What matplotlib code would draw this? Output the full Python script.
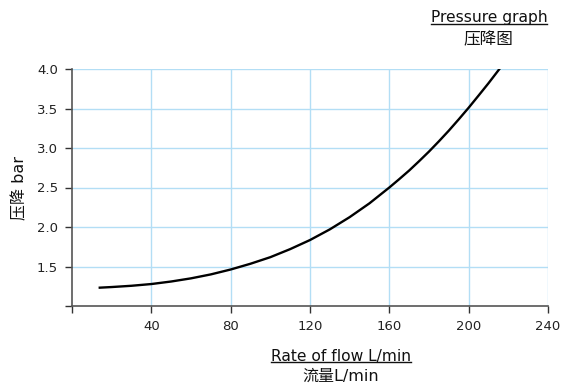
import matplotlib
matplotlib.use("Agg")
import matplotlib.pyplot as plt
from matplotlib.lines import Line2D

flow = [14, 20, 30, 40, 50, 60, 70, 80, 90, 100, 110, 120, 130, 140, 150, 160, 165, 170, 175, 180, 185, 190, 195, 200, 205, 210, 215.5]
pressure = [1.232, 1.24, 1.256, 1.278, 1.31, 1.35, 1.40, 1.462, 1.535, 1.618, 1.72, 1.835, 1.97, 2.125, 2.30, 2.50, 2.606, 2.715, 2.833, 2.955, 3.085, 3.22, 3.363, 3.51, 3.664, 3.82, 4.0]
xticks = [0, 40, 80, 120, 160, 200, 240]
xticklabels = ["", "40", "80", "120", "160", "200", "240"]
yticks = [1.0, 1.5, 2.0, 2.5, 3.0, 3.5, 4.0]
yticklabels = ["", "1.5", "2.0", "2.5", "3.0", "3.5", "4.0"]

plt.rcParams['font.family'] = ['DejaVu Sans', 'Noto Sans CJK SC']
plt.rcParams['font.size'] = 9.5

fig = plt.figure(figsize=(5.61, 3.87), dpi=100)
ax = fig.add_axes([72/561, 1-306/387, (548-72)/561, (306-69)/387])

ax.plot(flow, pressure, color='black', lw=1.7, solid_joinstyle='round')
ax.set_xlim(0, 240)
ax.set_ylim(1.0, 4.0)
ax.set_xticks(xticks)
ax.set_xticklabels(xticklabels)
ax.set_yticks(yticks)
ax.set_yticklabels(yticklabels)
grid_c = '#b3def5'
for x in xticks[1:]:
    ax.axvline(x, color=grid_c, lw=1.0, zorder=0)
for y in yticks[1:]:
    ax.axhline(y, color=grid_c, lw=1.0, zorder=0)
for s in ['top', 'right']:
    ax.spines[s].set_visible(False)
for s in ['left', 'bottom']:
    ax.spines[s].set_color('#555555')
    ax.spines[s].set_linewidth(1.2)
ax.tick_params(direction='out', length=5, width=1.0, color='#333333', labelcolor='#222222', pad=5)

ax.set_ylabel("压降 bar", fontsize=11.5, labelpad=7, color='#111111')

def underlined(x, y, s, fs):
    t = fig.text(x, y, s, ha='center', va='baseline', fontsize=fs, color='#111111')
    fig.canvas.draw()
    bb = t.get_window_extent().transformed(fig.transFigure.inverted())
    uy = y - 1.5/387
    fig.add_artist(Line2D([bb.x0, bb.x1], [uy, uy], color='#111111', lw=1.0,
                          transform=fig.transFigure))
    return t

underlined(489/561, 1-22/387, "Pressure graph", 11.2)
fig.text(488/561, 1-39/387, "压降图", ha='center', va='center', fontsize=12, color='#111111')
underlined(341/561, 1-360.5/387, "Rate of flow L/min", 11.2)
fig.text(341/561, 1-376/387, "流量L/min", ha='center', va='center', fontsize=11.5, color='#111111')

fig.savefig("out.png", dpi=100)
